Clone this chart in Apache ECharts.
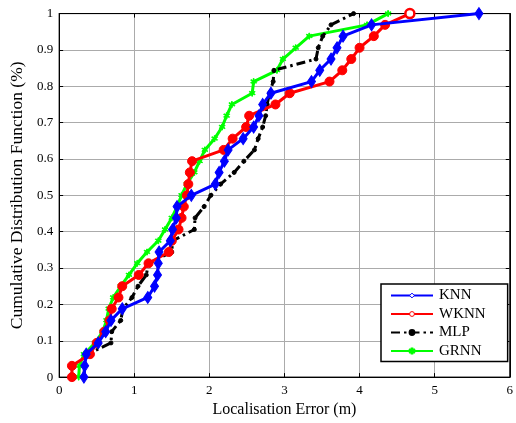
<!DOCTYPE html>
<html>
<head>
<meta charset="utf-8">
<script src="https://cdn.jsdelivr.net/npm/echarts@6/dist/echarts.min.js"></script>
<style>
  html, body { margin: 0; padding: 0; background: #fff; }
  #chart { width: 516px; height: 423px; }
</style>
</head>
<body>
<div id="chart"></div>
<script>
// Cumulative probability levels shared by every curve (33 test points)
const cdfLevels = [0, 0.031, 0.063, 0.094, 0.125, 0.156, 0.188, 0.219, 0.25, 0.281,
  0.313, 0.344, 0.375, 0.406, 0.438, 0.469, 0.5, 0.531, 0.563, 0.594,
  0.625, 0.656, 0.688, 0.719, 0.75, 0.781, 0.813, 0.844, 0.875, 0.906,
  0.938, 0.969, 1];

// Sorted localisation errors (m) for each method
const knnErrors = [0.33, 0.34, 0.36, 0.52, 0.62, 0.69, 0.84, 1.18, 1.27, 1.31,
  1.32, 1.33, 1.48, 1.51, 1.56, 1.57, 1.76, 2.08, 2.13, 2.20,
  2.25, 2.45, 2.59, 2.66, 2.71, 2.82, 3.36, 3.47, 3.62, 3.70,
  3.78, 4.16, 5.59];
const wknnErrors = [0.17, 0.17, 0.41, 0.50, 0.60, 0.67, 0.70, 0.79, 0.84, 1.06,
  1.19, 1.46, 1.50, 1.59, 1.63, 1.66, 1.70, 1.72, 1.74, 1.77,
  2.19, 2.31, 2.49, 2.53, 2.88, 3.07, 3.60, 3.77, 3.89, 4.00,
  4.19, 4.34, 4.67];
const mlpErrors = [0.33, 0.34, 0.38, 0.69, 0.70, 0.82, 0.85, 0.97, 1.05, 1.16,
  1.19, 1.50, 1.51, 1.80, 1.81, 1.93, 2.02, 2.15, 2.33, 2.46,
  2.60, 2.65, 2.71, 2.75, 2.77, 2.80, 2.85, 2.86, 3.42, 3.45,
  3.51, 3.62, 3.92];
const grnnErrors = [0.26, 0.27, 0.33, 0.48, 0.58, 0.63, 0.66, 0.72, 0.82, 0.93,
  1.04, 1.17, 1.32, 1.41, 1.50, 1.57, 1.63, 1.70, 1.80, 1.87,
  1.94, 2.07, 2.17, 2.23, 2.30, 2.57, 2.59, 2.90, 2.98, 3.15,
  3.33, 4.10, 4.38];

const xTicks = [0, 1, 2, 3, 4, 5, 6];
const yTicks = [0, 0.1, 0.2, 0.3, 0.4, 0.5, 0.6, 0.7, 0.8, 0.9, 1];

const toPoints = errs => errs.map((e, i) => [e, cdfLevels[i]]);

const serif = 'Liberation Serif';
const asterisk = 'path://M4.4,0 L5.6,0 L5.6,3.6 L8.8,1.8 L9.4,2.8 L6.2,4.8 L9.4,6.8 L8.8,7.8 L5.6,6 L5.6,10 L4.4,10 L4.4,6 L1.2,7.8 L0.6,6.8 L3.8,4.8 L0.6,2.8 L1.2,1.8 L4.4,3.6 Z';

const chart = echarts.init(document.getElementById('chart'), null, { renderer: 'canvas' });

const gridLine = { show: true, lineStyle: { color: '#ababab', width: 1 } };
const axisBase = {
  axisLine: { show: true, onZero: false, lineStyle: { color: '#000', width: 1 } },
  axisTick: { show: true, inside: true, length: 4, lineStyle: { color: '#000' } }
};

function line(name, data, color, symbol, size, extra) {
  return Object.assign({
    name: name,
    type: 'line',
    data: data,
    symbol: symbol,
    symbolSize: size,
    showAllSymbol: true,
    lineStyle: { color: color, width: 3 },
    itemStyle: { color: color, borderColor: color, borderWidth: 1 },
    emphasis: { disabled: true },
    animation: false
  }, extra || {});
}

// WKNN: filled circles, last one drawn as an open ring
const wknnPoints = toPoints(wknnErrors).map((p, i, arr) =>
  i === arr.length - 1
    ? { value: p, itemStyle: { color: '#ffffff', borderColor: '#ff0000', borderWidth: 2.5 } }
    : p);

chart.setOption({
  backgroundColor: '#fff',
  animation: false,
  grid: { left: 55.5, right: 2.5, top: 13.6, bottom: 36.4, show: true, borderColor: '#000', borderWidth: 1, containLabel: false },
  xAxis: [
    Object.assign({
      type: 'value', min: 0, max: 6, interval: 1, position: 'bottom',
      name: 'Localisation Error (m)', nameLocation: 'middle', nameGap: 17,
      nameTextStyle: { fontFamily: serif, fontSize: 16, color: '#000' },
      axisLabel: { fontFamily: serif, fontSize: 13, color: '#000', margin: 7,
        formatter: v => xTicks.includes(v) ? String(v) : '' },
      splitLine: gridLine
    }, axisBase),
    Object.assign({
      type: 'value', min: 0, max: 6, interval: 1, position: 'top',
      axisLabel: { show: false }, splitLine: { show: false }
    }, axisBase)
  ],
  yAxis: [
    Object.assign({
      type: 'value', min: 0, max: 1, interval: 0.1, position: 'left',
      name: 'Cumulative Distribution Function (%)', nameLocation: 'middle', nameGap: 26,
      nameTextStyle: { fontFamily: serif, fontSize: 17.5, color: '#000' },
      axisLabel: { fontFamily: serif, fontSize: 13, color: '#000', margin: 6,
        formatter: v => {
          const t = yTicks.find(y => Math.abs(y - v) < 1e-6);
          if (t === undefined) return '';
          return (t === 0 || t === 1) ? String(t) : t.toFixed(1);
        } },
      splitLine: gridLine
    }, axisBase),
    Object.assign({
      type: 'value', min: 0, max: 1, interval: 0.1, position: 'right',
      axisLabel: { show: false }, splitLine: { show: false }
    }, axisBase)
  ],
  legend: {
    orient: 'vertical',
    left: 381, top: 284,
    padding: [4, 22, 3, 9],
    backgroundColor: '#fff',
    borderColor: '#000', borderWidth: 1.5,
    itemWidth: 42, itemHeight: 6, itemGap: 3.5,
    textStyle: { fontFamily: serif, fontSize: 15, lineHeight: 15, color: '#000', padding: [0, 0, 0, 1] },
    data: [
      { name: 'KNN', itemStyle: { color: '#ffffff', borderColor: '#0000ff', borderWidth: 1 } },
      { name: 'WKNN', itemStyle: { color: '#ffffff', borderColor: '#ff0000', borderWidth: 1 } },
      { name: 'MLP' },
      { name: 'GRNN' }
    ]
  },
  series: [
    line('GRNN', toPoints(grnnErrors), '#00ff00', asterisk, 6, { z: 2 }),
    line('MLP', toPoints(mlpErrors), '#000000', 'circle', 4, {
      z: 3, lineStyle: { color: '#000', width: 3, type: [9, 4, 2.5, 4] }
    }),
    line('WKNN', wknnPoints, '#ff0000', 'circle', 9, { z: 4 }),
    line('KNN', toPoints(knnErrors), '#0000ff', 'diamond', [8, 12], { z: 5 })
  ]
});
</script>
</body>
</html>
